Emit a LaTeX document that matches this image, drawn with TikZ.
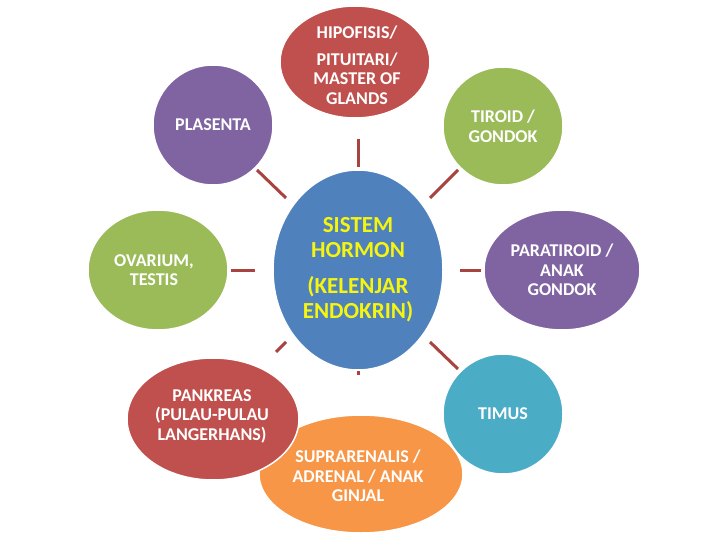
\documentclass[tikz,border=0pt]{standalone}
\usepackage{fontspec}
\setmainfont{Carlito}
\usetikzlibrary{shapes.geometric}
\definecolor{cRed}{HTML}{C0504D}
\definecolor{cGreen}{HTML}{9BBB59}
\definecolor{cPurple}{HTML}{8064A2}
\definecolor{cAqua}{HTML}{4BACC6}
\definecolor{cOrange}{HTML}{F79646}
\definecolor{cBlue}{HTML}{4F81BD}
\definecolor{cLink}{HTML}{A9433F}
\definecolor{cYellow}{HTML}{F5F510}
\tikzset{
  blob/.style={ellipse, draw=white, line width=1.5pt, inner sep=0pt},
  txt/.style={text=white, align=center, inner sep=0pt,
    font=\fontsize{18}{19.5}\selectfont\bfseries},
  ctxt/.style={text=cYellow, align=center, inner sep=0pt,
    font=\fontsize{23}{25}\selectfont\bfseries},
  link/.style={draw=cLink, line width=3pt},
}
\begin{document}
\begin{tikzpicture}[x=1pt,y=-1pt]
\path[fill=white] (0,0) rectangle (720,540);
% nodes
\node[blob, fill=cRed, minimum width=150pt, minimum height=112pt] (hip) at (355,62) {};
\node[txt] (hipt) at (357,65) {HIPOFISIS/\\[7pt]PITUITARI/\\MASTER OF\\GLANDS};
\node[blob, fill=cGreen, minimum width=120pt, minimum height=118pt] (tir) at (503,126) {};
\node[txt] (tirt) at (503,126) {TIROID /\\GONDOK};
\node[blob, fill=cPurple, minimum width=120pt, minimum height=120pt] (pla) at (213,125) {};
\node[txt] (plat) at (213,125) {PLASENTA};
\node[blob, fill=cGreen, minimum width=140pt, minimum height=120pt] (ova) at (158,270) {};
\node[txt] (ovat) at (154,270) {OVARIUM,\\TESTIS};
\node[blob, fill=cPurple, minimum width=156pt, minimum height=120pt] (par) at (562,270) {};
\node[txt] (part) at (562,270) {PARATIROID /\\ANAK\\GONDOK};
\node[blob, fill=cAqua, minimum width=120pt, minimum height=120pt] (tim) at (503,414) {};
\node[txt] (timt) at (503,414) {TIMUS};
\node[blob, fill=cOrange, minimum width=204pt, minimum height=118pt] (sup) at (361,474) {};
\node[txt] (supt) at (358,476) {SUPRARENALIS /\\ADRENAL / ANAK\\GINJAL};
\node[blob, fill=cRed, minimum width=172pt, minimum height=122pt] (pan) at (213,419) {};
\node[txt] (pant) at (212,416) {PANKREAS\\(PULAU-PULAU\\LANGERHANS)};
\node[blob, fill=cBlue, minimum width=170pt, minimum height=200pt] (cen) at (358,270) {};
\node[ctxt] (cent) at (358,270) {SISTEM\\HORMON\\[11pt](KELENJAR\\ENDOKRIN)};
% connector stubs
\coordinate (a1) at (358,139); \coordinate (a2) at (358,167);
\coordinate (b1) at (257,170); \coordinate (b2) at (286,198);
\coordinate (c1) at (458,170); \coordinate (c2) at (430,198);
\coordinate (d1) at (231,270); \coordinate (d2) at (255,270);
\coordinate (e1) at (460,270); \coordinate (e2) at (481,270);
\coordinate (f1) at (286,342); \coordinate (f2) at (276,352);
\coordinate (g1) at (430,342); \coordinate (g2) at (458,369);
\coordinate (h1) at (358,371); \coordinate (h2) at (358,375);
\draw[link] (a1) -- (a2);
\draw[link] (b1) -- (b2);
\draw[link] (c1) -- (c2);
\draw[link] (d1) -- (d2);
\draw[link] (e1) -- (e2);
\draw[link] (f1) -- (f2);
\draw[link] (g1) -- (g2);
\draw[link] (h1) -- (h2);
\end{tikzpicture}
\end{document}
